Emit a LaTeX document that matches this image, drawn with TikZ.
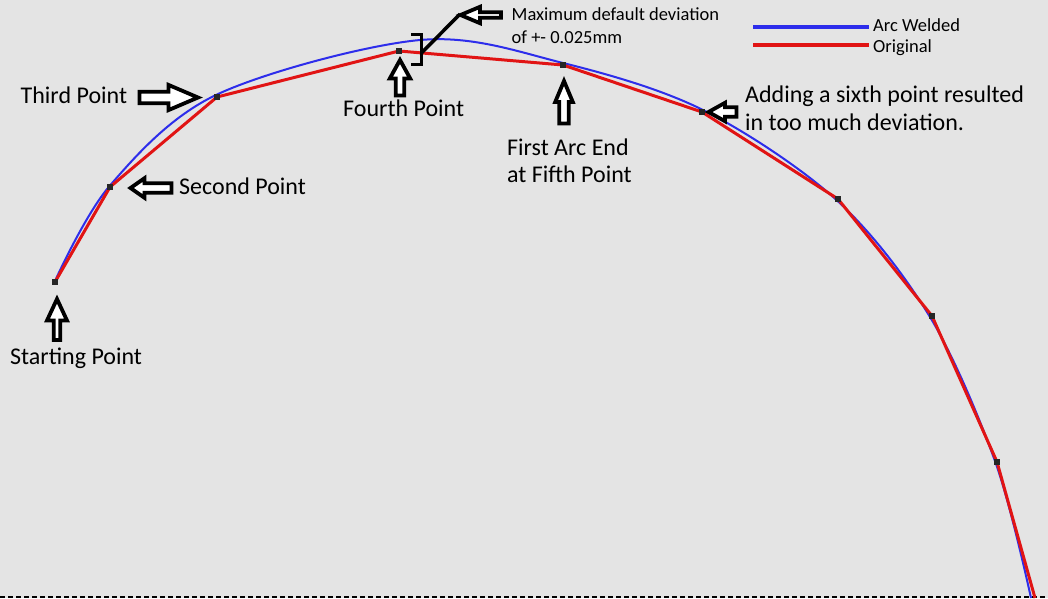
\documentclass[tikz,border=0pt]{standalone}
\usepackage{fontspec}
\setmainfont{Carlito}
\definecolor{bg}{RGB}{228,228,228}
\definecolor{cred}{RGB}{225,20,20}
\definecolor{cblue}{RGB}{45,45,235}
\newcommand\blockarr[7]{% tip x, tip y, angle, length, head length, head half width, shaft half width
  \begin{scope}[shift={(#1,#2)},rotate=#3]
    \draw[arrowbox] (0,0) -- (-#5,#6) -- (-#5,#7) -- (-#4,#7) -- (-#4,-#7) -- (-#5,-#7) -- (-#5,-#6) -- cycle;
  \end{scope}}
\begin{document}
\begin{tikzpicture}[x=1pt,y=-1pt,
  arrowbox/.style={draw=black,fill=white,line width=3.8pt,line join=miter},
  bigtext/.style={font=\fontsize{24}{28}\selectfont,anchor=base west,inner sep=0pt},
  smalltext/.style={font=\fontsize{18.5}{22}\selectfont,anchor=base west,inner sep=0pt},
  marker/.style={fill=black!85,minimum size=6pt,inner sep=0pt,draw=none}]
\fill[bg] (0,0) rectangle (1048,598);
\useasboundingbox (0,0) rectangle (1048,598);
% bottom dashed border
\coordinate (bl) at (0,596.8);
\coordinate (br) at (1048,596.8);
\draw[black,line width=1.8pt,dash pattern=on 4.5pt off 3.5pt] (bl) -- (br);
% points
\coordinate (p1) at (55,282);
\coordinate (p2) at (110,187);
\coordinate (p3) at (217,97);
\coordinate (p4) at (399,51);
\coordinate (p5) at (563,65);
\coordinate (p6) at (702,112);
\coordinate (p7) at (838,199);
\coordinate (p8) at (932,316);
\coordinate (p9) at (997,462);
\coordinate (p10) at (1035,598);
% blue arc
\draw[cblue,line width=2pt] plot[smooth,tension=0.55] coordinates {(55,281) (110,185.5) (217,94.5) (420,40) (563,63) (703,110) (836.5,200) (930,317) (995.5,462.5) (1031,598)};
% red original
\draw[cred,line width=3pt,line join=round] (p1) -- (p2) -- (p3) -- (p4) -- (p5) -- (p6) -- (p7) -- (p8) -- (p9) -- (p10);
% markers
\foreach \p in {p1,p2,p3,p4,p5,p6,p7,p8,p9} \node[marker] (m\p) at (\p) {};
% legend
\coordinate (lb1) at (753,27.3);
\coordinate (lb2) at (869,27.3);
\coordinate (lr1) at (753,45);
\coordinate (lr2) at (869,45);
\draw[cblue,line width=4pt] (lb1) -- (lb2);
\draw[cred,line width=4pt] (lr1) -- (lr2);
\node[smalltext] (legb) at (873,31.7) {Arc Welded};
\node[smalltext] (legr) at (873,52.7) {Original};
% labels
\node[bigtext] (t1) at (10,364) {Starting Point};
\node[bigtext] (t2) at (179,194) {Second Point};
\node[bigtext] (t3) at (20.5,103.5) {Third Point};
\node[bigtext] (t4) at (343,116.7) {Fourth Point};
\node[bigtext] (t5a) at (507,155) {First Arc End};
\node[bigtext] (t5b) at (507,182) {at Fifth Point};
\node[smalltext] (tma) at (511.5,20.7) {Maximum default deviation};
\node[smalltext] (tmb) at (511.5,43.3) {of +- 0.025mm};
\node[bigtext] (t6a) at (745,102) {Adding a sixth point resulted};
\node[bigtext] (t6b) at (745,130) {in too much deviation.};
% bracket and leader
\coordinate (bk1) at (411,34.5);
\coordinate (bk2) at (421.5,34.5);
\coordinate (bk3) at (421.5,64.5);
\coordinate (bk4) at (411,64.5);
\coordinate (bkm) at (421.5,53);
\coordinate (lead) at (460,14);
\draw[black,line width=3.5pt,line join=miter] (bk1) -- (bk2) -- (bk3) -- (bk4);
\draw[black,line width=3.5pt] (bkm) -- (lead);
% block arrows
\blockarr{57}{299}{90}{41}{21.5}{10}{3.3}
\blockarr{130.5}{188}{180}{41}{14}{9.8}{4.7}
\blockarr{198}{97.5}{0}{58.5}{29.5}{12.6}{5.8}
\blockarr{400}{60}{90}{35.5}{18.5}{10.2}{4.3}
\blockarr{564}{81}{90}{42.5}{21}{8.8}{4.8}
\blockarr{460.5}{15}{180}{40.5}{19.5}{8.2}{2.8}
\blockarr{708.5}{112}{180}{28}{16.5}{9.2}{4.8}
\end{tikzpicture}
\end{document}
